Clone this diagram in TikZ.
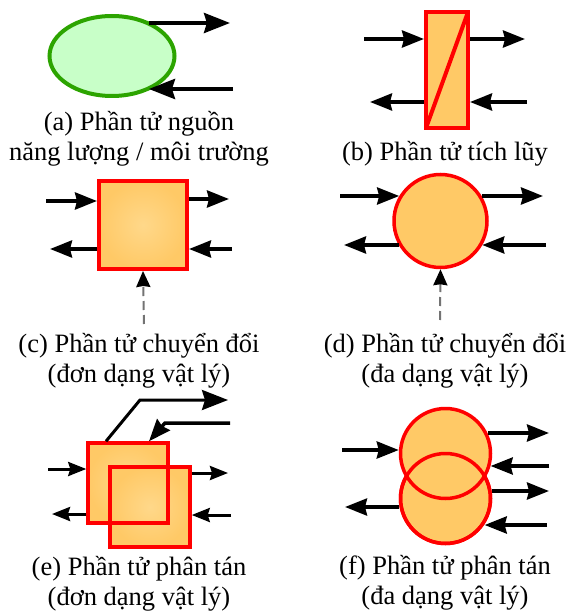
\documentclass[tikz,border=0pt]{standalone}
\usepackage{fontspec}
\setmainfont{Liberation Serif}
\usepackage{xcolor}
\usetikzlibrary{arrows.meta, positioning, shapes.geometric}

\definecolor{srcgreen}{HTML}{2CA400}
\definecolor{srcfill}{HTML}{C8FFC8}
\definecolor{boxred}{HTML}{FF0000}
\definecolor{boxfill}{HTML}{FFC966}
\definecolor{boxglow}{HTML}{FFD88A}

\begin{document}
\begin{tikzpicture}[
  x=1pt, y=-1pt,
  source/.style={ellipse, draw=srcgreen, fill=srcfill, line width=4pt, minimum width=125pt, minimum height=80pt, inner sep=0pt},
  store/.style={rectangle, draw=boxred, fill=boxfill, line width=4pt, inner sep=0pt},
  square/.style={rectangle, draw=boxred, inner color=boxglow, outer color=boxfill, line width=4pt, inner sep=0pt, minimum size=#1},
  outline/.style={rectangle, draw=boxred, line width=3.5pt, inner sep=0pt, minimum size=#1},
  disc/.style={circle, draw=boxred, fill=boxfill, line width=3.5pt, inner sep=0pt, minimum size=#1},
  bigflow/.style={-{Stealth[length=26pt, width=20pt, inset=3pt]}, line width=4pt},
  flow/.style={-{Stealth[length=22pt, width=17pt, inset=2pt]}, line width=3.5pt},
  thinflow/.style={-{Stealth[length=18pt, width=14pt, inset=2pt]}, line width=3pt},
  ctrl/.style={-{Stealth[length=16pt, width=14pt, inset=1pt, black]}, draw=black!55, line width=2pt, dash pattern=on 9pt off 5pt},
  caption/.style={align=center, inner sep=0pt, font=\fontsize{26.5}{29.5}\selectfont}
]
\useasboundingbox (0,0) rectangle (568,612);

% blocks
\node[source] (a) at (112,56) {};
\node[store, minimum width=42pt, minimum height=116pt] (b) at (447,70) {};
\node[square=88pt] (c) at (143,225) {};
\node[disc=93pt] (d) at (440.5,221) {};
\node[square=80pt, line width=3.5pt] (e1) at (128,483) {};
\node[square=80pt, line width=3.5pt] (e2) at (150,507) {};
\node[outline=80pt] (e1top) at (e1) {};
\node[disc=90pt] (f2) at (445.5,498.5) {};
\node[disc=90pt] (f1) at (445.5,453.5) {};
\node[disc=90pt, fill=none] (f2top) at (f2) {};
\draw[boxred, line width=4pt] ([shift={(-2,2)}]b.north east) -- ([shift={(2,-2)}]b.south west);

% free ends
\coordinate (aOut) at (230,23);
\coordinate (aIn) at (233,89);
\coordinate (bInA) at (364,39);
\coordinate (bOutA) at (525,39);
\coordinate (bOutB) at (370,102);
\coordinate (bInB) at (527,102);
\coordinate (cInA) at (46,201);
\coordinate (cOutA) at (229,199);
\coordinate (cOutB) at (50,249);
\coordinate (cInB) at (232,249);
\coordinate (cCtrl) at (144,324);
\coordinate (dInA) at (340,196);
\coordinate (dOutA) at (543,196);
\coordinate (dOutB) at (344,245);
\coordinate (dInB) at (546,245);
\coordinate (dCtrl) at (440,320);
\coordinate (eInA) at (48,469);
\coordinate (eOutA) at (228,473);
\coordinate (eOutB) at (52,514);
\coordinate (eInB) at (231,515);
\coordinate (eKneeA) at (140,400);
\coordinate (eEndA) at (228,400);
\coordinate (eKneeB) at (165,423);
\coordinate (eEndB) at (230,423);
\coordinate (fInA) at (342,450);
\coordinate (fOutB) at (345,507);
\coordinate (fOutA) at (549,433);
\coordinate (fInB) at (549,466);
\coordinate (fOutC) at (549,491);
\coordinate (fInC) at (547,525);

% connectors
\draw[bigflow] (aOut -| a.43) -- (aOut);
\draw[bigflow] (aIn) -- (aIn -| a.-43);

\draw[flow] (bInA) -- (bInA -| b.west);
\draw[flow] (bOutA -| b.east) -- (bOutA);
\draw[flow] (bOutB -| b.west) -- (bOutB);
\draw[flow] (bInB) -- (bInB -| b.east);

\draw[flow] (cInA) -- (cInA -| c.west);
\draw[flow] (cOutA -| c.east) -- (cOutA);
\draw[flow] (cOutB -| c.west) -- (cOutB);
\draw[flow] (cInB) -- (cInB -| c.east);
\draw[ctrl] (cCtrl) -- (c.south);

\draw[flow] (dInA) -- (dInA -| d.149);
\draw[flow] (dOutA -| d.31) -- (dOutA);
\draw[flow] (dOutB -| d.-150) -- (dOutB);
\draw[flow] (dInB) -- (dInB -| d.-30);
\draw[ctrl] (dCtrl) -- (d.south);

\draw[thinflow] (eInA) -- (eInA -| e1.west);
\draw[thinflow] (eOutA -| e2.east) -- (eOutA);
\draw[thinflow] (eOutB -| e1.west) -- (eOutB);
\draw[thinflow] (eInB) -- (eInB -| e2.east);
\draw[bigflow, line width=3pt] ([xshift=-22pt]e1.north) -- (eKneeA) -- (eEndA);
\draw[flow] (eEndB) -- (eKneeB) -- ([xshift=21pt]e1.north);

\draw[flow] (fInA) -- (fInA -| f1.west);
\draw[flow] (fOutB -| f2.west) -- (fOutB);
\draw[flow] (fOutA -| f1.25) -- (fOutA);
\draw[flow] (fInB) -- (fInB -| f1.-15);
\draw[flow] (fOutC -| f2.10) -- (fOutC);
\draw[flow] (fInC) -- (fInC -| f2.-33);

% captions
\node[caption] (capA) at (139,139) {(a) Phần tử nguồn\\năng lượng / môi trường};
\node[caption, below=167pt of capA] (capC) {(c) Phần tử chuyển đổi\\(đơn dạng vật lý)};
\node[caption, below=168pt of capC] (capE) {(e) Phần tử phân tán\\(đơn dạng vật lý)};
\node[caption] (capB) at (445,154) {(b) Phần tử tích lũy};
\node[caption] (capD) at (445,361) {(d) Phần tử chuyển đổi\\(đa dạng vật lý)};
\node[caption, below=167pt of capD] (capF) {(f) Phần tử phân tán\\(đa dạng vật lý)};
\end{tikzpicture}
\end{document}
